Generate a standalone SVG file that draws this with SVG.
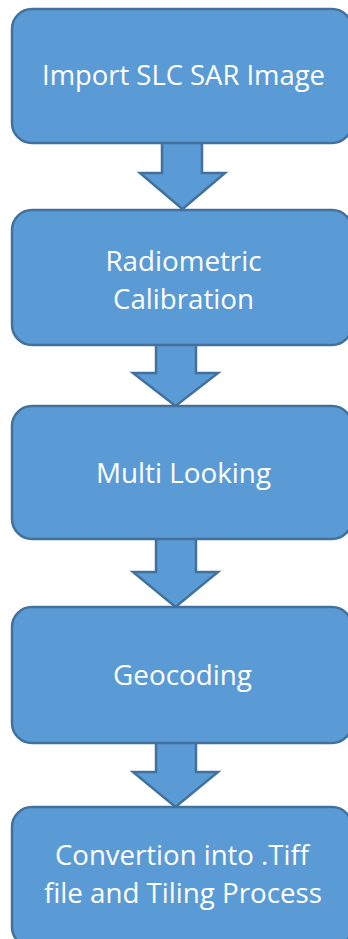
<svg xmlns="http://www.w3.org/2000/svg" width="348" height="939" viewBox="0 0 348 939">
<style>
.box{fill:#5B9BD5;stroke:#41719C;stroke-width:2.5}
.arr{fill:#5B9BD5;stroke:#41719C;stroke-width:2.5;stroke-linejoin:miter}
.t{fill:#FFFFFF;font-family:"Open Sans","Liberation Sans",sans-serif;font-size:26.5px;text-anchor:middle}
</style>
<rect width="348" height="939" fill="#FFFFFF"/>
<g id="connectors">
<path class="arr" d="M162,143 V173 H140 L182.5,209 L225,173 H202 V143"/>
<path class="arr" d="M156,345 V373 H133 L175.5,406 L218,373 H196 V345"/>
<path class="arr" d="M156,539 V572 H133 L175.5,607 L218,572 H196 V539"/>
<path class="arr" d="M156,743 V772 H133 L175.5,807 L218,772 H196 V743"/>
</g>
<g id="n1">
<rect class="box" x="12" y="9" width="340" height="134" rx="20"/>
<text class="t" x="183.5" y="85" textLength="283" lengthAdjust="spacingAndGlyphs">Import SLC SAR Image</text>
</g>
<g id="n2">
<rect class="box" x="12" y="210" width="340" height="135" rx="20"/>
<text class="t" x="183.5" y="271" textLength="156" lengthAdjust="spacingAndGlyphs">Radiometric</text>
<text class="t" x="183.5" y="309" textLength="141" lengthAdjust="spacingAndGlyphs">Calibration</text>
</g>
<g id="n3">
<rect class="box" x="12" y="406" width="340" height="133" rx="20"/>
<text class="t" x="183.5" y="483" textLength="175" lengthAdjust="spacingAndGlyphs">Multi Looking</text>
</g>
<g id="n4">
<rect class="box" x="12" y="607" width="340" height="136" rx="20"/>
<text class="t" x="182.5" y="685" textLength="139" lengthAdjust="spacingAndGlyphs">Geocoding</text>
</g>
<g id="n5">
<rect class="box" x="12" y="807" width="340" height="140" rx="20"/>
<text class="t" x="182" y="865" textLength="254" lengthAdjust="spacingAndGlyphs">Convertion into .Tiff</text>
<text class="t" x="183" y="903" textLength="278" lengthAdjust="spacingAndGlyphs">file and Tiling Process</text>
</g>
</svg>
